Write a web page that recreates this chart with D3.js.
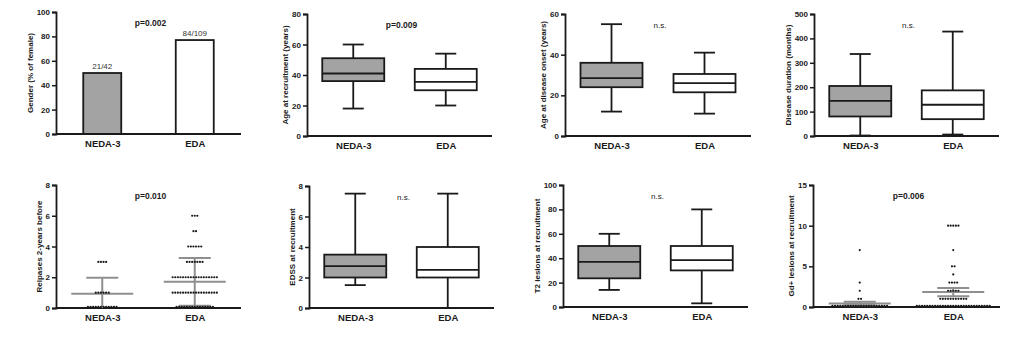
<!DOCTYPE html>
<html><head><meta charset="utf-8">
<script src="https://cdn.jsdelivr.net/npm/d3@7"></script>
<style>
html,body{margin:0;padding:0;background:#fff;}
svg{display:block;font-family:"Liberation Sans",Arial,sans-serif;}
</style></head>
<body>
<svg id="chart" width="1024" height="359"></svg>
<script>
// ---------- DATA ----------
const categories = ["NEDA-3", "EDA"];

// Panel 1: gender (% female)
const genderPct = [50, 77];
const genderCounts = ["21/42", "84/109"];

// Box plots: [min, Q1, median, Q3, max]
const ageRecruitNEDA = [18, 36, 41, 51, 60];
const ageRecruitEDA  = [20, 30, 35.5, 44, 54];
const ageOnsetNEDA   = [12, 24, 28.5, 36, 55];
const ageOnsetEDA    = [11, 21.5, 26, 30.5, 41];
const durationNEDA   = [2, 80, 144, 205, 336];
const durationEDA    = [6, 69, 128, 187, 428];
const edssNEDA       = [1.5, 2, 2.75, 3.5, 7.5];
const edssEDA        = [0, 2, 2.5, 4, 7.5];
const t2NEDA         = [14, 23.5, 37, 50, 60];
const t2EDA          = [3, 30, 38.5, 50, 80];

// Scatter (value -> count of patients)
const relapseValues     = [0, 1, 2, 3, 4, 5, 6];
const relapseCountsNEDA = [12, 6, 0, 4, 0, 0, 0];
const relapseCountsEDA  = [15, 18, 18, 7, 6, 2, 3];
const relapseMean = [0.93, 1.7];
const relapseErrLow  = [0, 0.15];
const relapseErrHigh = [1.97, 3.25];

const gdValues     = [0, 1, 2, 3, 4, 5, 7, 10];
const gdCountsNEDA = [22, 2, 1, 1, 0, 0, 1, 0];
const gdCountsEDA  = [29, 11, 5, 4, 1, 2, 1, 5];
const gdMean    = [0.42, 1.85];
const gdErrLow  = [0.22, 1.33];
const gdErrHigh = [0.65, 2.35];

// Tick values
const ticksGender   = [0, 20, 40, 60, 80, 100];
const ticksAgeRec   = [0, 20, 40, 60, 80];
const ticksAgeOnset = [0, 20, 40, 60];
const ticksDuration = [0, 100, 200, 300, 400, 500];
const ticksRelapse  = [0, 2, 4, 6, 8];
const ticksEdss     = [0, 2, 4, 6, 8];
const ticksT2       = [0, 20, 40, 60, 80, 100];
const ticksGd       = [0, 5, 10, 15];

const yTitles = ["Gender (% of female)", "Age at recruitment (years)", "Age at disease onset (years)",
  "Disease duration (months)", "Relpases 2-years before", "EDSS at recruitment",
  "T2 lesions at recruitment", "Gd+ lesions at recruitment"];
const pTexts = ["p=0.002", "p=0.009", "n.s.", "n.s.", "p=0.010", "n.s.", "n.s.", "p=0.006"];

// ---------- LAYOUT ----------
const layout = [
  {x0: 56,  x1: 241, yTop: 12,  yBot: 134},
  {x0: 307, x1: 492, yTop: 14,  yBot: 136},
  {x0: 565, x1: 751, yTop: 14,  yBot: 136},
  {x0: 814, x1: 999, yTop: 14,  yBot: 136},
  {x0: 56,  x1: 241, yTop: 185, yBot: 308},
  {x0: 309, x1: 494, yTop: 186, yBot: 308},
  {x0: 563, x1: 748, yTop: 185, yBot: 307},
  {x0: 813, x1: 1000, yTop: 185, yBot: 307}
];

const svg = d3.select("#chart");
const INK = "#1a1a1a";
const GREY = "#a3a3a3";
const ERR = "#8f8f8f";

function makePanel(i, ticks, plotOnTop) {
  const L = layout[i];
  const g = svg.append("g");
  const y = d3.scaleLinear().domain([ticks[0], ticks[ticks.length - 1]]).range([L.yBot, L.yTop]);
  const x = d3.scalePoint().domain(categories).range([L.x0, L.x1]).padding(0.5);
  let plot = plotOnTop ? null : g.append("g");
  // y axis
  const ya = g.append("g").attr("transform", `translate(${L.x0},0)`)
    .call(d3.axisLeft(y).tickValues(ticks).tickSize(4).tickPadding(2).tickFormat(d3.format("d")));
  ya.select(".domain").attr("stroke", INK).attr("stroke-width", 1.8);
  ya.selectAll(".tick line").attr("stroke", INK).attr("stroke-width", 1.5);
  ya.selectAll(".tick text").attr("fill", INK).style("font-size", "8px").style("font-weight", "bold")
    .style("font-family", "'Liberation Sans', Arial, sans-serif");
  // x axis
  const xa = g.append("g").attr("transform", `translate(0,${L.yBot})`)
    .call(d3.axisBottom(x).tickSize(0).tickPadding(6));
  xa.select(".domain").attr("stroke", INK).attr("stroke-width", 1.8)
    .attr("d", `M${L.x0},0H${L.x1}`);
  xa.selectAll(".tick text").attr("fill", INK).style("font-size", "9.5px").style("font-weight", "bold")
    .style("font-family", "'Liberation Sans', Arial, sans-serif");
  if (plotOnTop) plot = g.append("g");
  // y title
  const bb = ya.node().getBBox();
  g.append("text")
    .attr("transform", `translate(${L.x0 + bb.x - 4},${(L.yTop + L.yBot) / 2}) rotate(-90)`)
    .attr("text-anchor", "middle").attr("fill", INK)
    .style("font-size", "8px").style("font-weight", "bold")
    .text(yTitles[i]);
  // p value
  const isNs = pTexts[i] === "n.s.";
  g.append("text")
    .attr("x", (L.x0 + L.x1) / 2 + 2)
    .attr("y", L.yTop + 14)
    .attr("text-anchor", "middle").attr("fill", INK)
    .style("font-size", isNs ? "8px" : "8.5px").style("font-weight", isNs ? "normal" : "bold")
    .text(pTexts[i]);
  return {g: plot, x, y, L};
}

function drawBox(P, stats, fills) {
  const bw = 62, cw = 21;
  stats.forEach((s, k) => {
    const cx = P.x(categories[k]);
    const grp = P.g.append("g").attr("stroke", INK).attr("stroke-width", 1.8).attr("fill", "none");
    grp.append("line").attr("x1", cx).attr("x2", cx).attr("y1", P.y(s[0])).attr("y2", P.y(s[1]));
    grp.append("line").attr("x1", cx).attr("x2", cx).attr("y1", P.y(s[3])).attr("y2", P.y(s[4]));
    grp.append("line").attr("x1", cx - cw / 2).attr("x2", cx + cw / 2).attr("y1", P.y(s[0])).attr("y2", P.y(s[0]));
    grp.append("line").attr("x1", cx - cw / 2).attr("x2", cx + cw / 2).attr("y1", P.y(s[4])).attr("y2", P.y(s[4]));
    grp.append("rect").attr("x", cx - bw / 2).attr("width", bw)
      .attr("y", P.y(s[3])).attr("height", P.y(s[1]) - P.y(s[3]))
      .attr("fill", fills[k]);
    grp.append("line").attr("x1", cx - bw / 2).attr("x2", cx + bw / 2).attr("y1", P.y(s[2])).attr("y2", P.y(s[2]));
  });
}

function drawScatter(P, values, countsList, means, lows, highs) {
  const sp = 2.6, mw = 62, cw = 32;
  countsList.forEach((counts, k) => {
    const cx = P.x(categories[k]);
    const e = P.g.append("g").attr("stroke", ERR).attr("stroke-width", 2);
    e.append("line").attr("x1", cx).attr("x2", cx).attr("y1", P.y(lows[k])).attr("y2", P.y(highs[k]));
    e.append("line").attr("x1", cx - mw / 2).attr("x2", cx + mw / 2).attr("y1", P.y(means[k])).attr("y2", P.y(means[k]));
    e.append("line").attr("x1", cx - cw / 2).attr("x2", cx + cw / 2).attr("y1", P.y(highs[k])).attr("y2", P.y(highs[k]));
    if (lows[k] > 0)
      e.append("line").attr("x1", cx - cw / 2).attr("x2", cx + cw / 2).attr("y1", P.y(lows[k])).attr("y2", P.y(lows[k]));
    const pts = [];
    values.forEach((v, j) => {
      const n = counts[j];
      for (let q = 0; q < n; q++) pts.push({v, dx: (q - (n - 1) / 2) * sp});
    });
    P.g.append("g").selectAll("circle").data(pts).join("circle")
      .attr("cx", d => cx + d.dx).attr("cy", d => P.y(d.v) - (d.v === 0 ? 1.2 : 0)).attr("r", 1.1).attr("fill", INK);
  });
}

// Panel 1: bars
{
  const P = makePanel(0, ticksGender, false);
  const bw = 38;
  const fills = [GREY, "#fff"];
  P.g.selectAll("rect").data(genderPct).join("rect")
    .attr("x", (d, k) => P.x(categories[k]) - bw / 2).attr("width", bw)
    .attr("y", d => P.y(d)).attr("height", d => P.y(0) - P.y(d))
    .attr("fill", (d, k) => fills[k]).attr("stroke", INK).attr("stroke-width", 1.8);
  P.g.selectAll("text").data(genderPct).join("text")
    .attr("x", (d, k) => P.x(categories[k])).attr("y", d => P.y(d) - 4)
    .attr("text-anchor", "middle").attr("fill", "#333").style("font-size", "8px")
    .text((d, k) => genderCounts[k]);
}
drawBox(makePanel(1, ticksAgeRec, false), [ageRecruitNEDA, ageRecruitEDA], [GREY, "#fff"]);
drawBox(makePanel(2, ticksAgeOnset, false), [ageOnsetNEDA, ageOnsetEDA], [GREY, "#fff"]);
drawBox(makePanel(3, ticksDuration, false), [durationNEDA, durationEDA], [GREY, "#fff"]);
drawScatter(makePanel(4, ticksRelapse, true), relapseValues, [relapseCountsNEDA, relapseCountsEDA], relapseMean, relapseErrLow, relapseErrHigh);
drawBox(makePanel(5, ticksEdss, false), [edssNEDA, edssEDA], [GREY, "#fff"]);
drawBox(makePanel(6, ticksT2, false), [t2NEDA, t2EDA], [GREY, "#fff"]);
drawScatter(makePanel(7, ticksGd, true), gdValues, [gdCountsNEDA, gdCountsEDA], gdMean, gdErrLow, gdErrHigh);
</script>
</body></html>
